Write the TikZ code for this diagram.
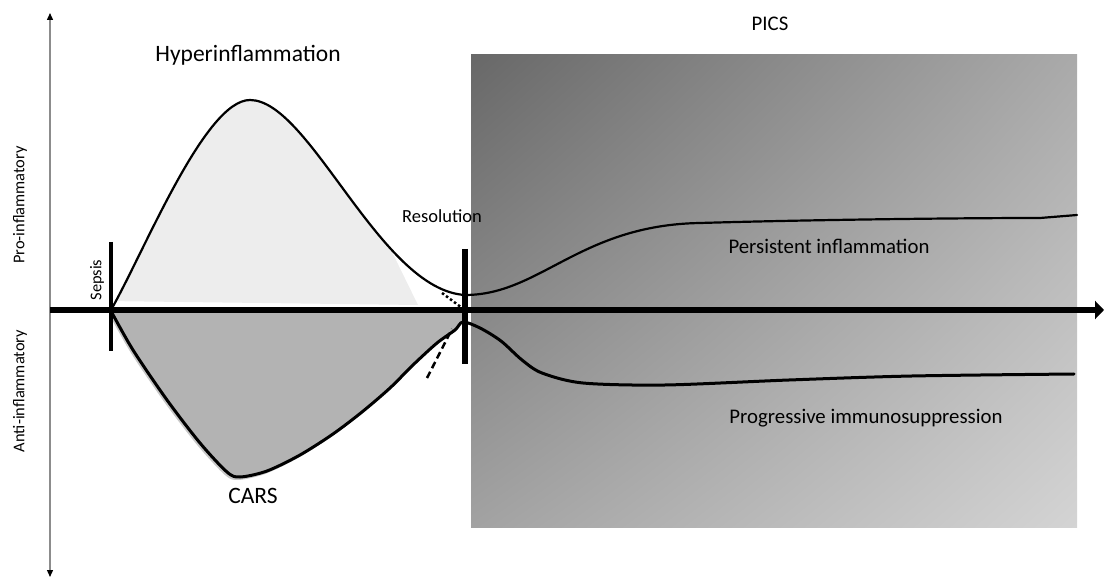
\documentclass[tikz,border=0pt]{standalone}
\usepackage{fontspec}
\setmainfont{Carlito}
\usetikzlibrary{arrows.meta,shadings}
\definecolor{hyperfill}{HTML}{EDEDED}
\definecolor{carsfill}{HTML}{B3B3B3}
\definecolor{carshalo}{HTML}{C8C8C8}
\definecolor{axisgray}{HTML}{8C8C8C}
\definecolor{picsUL}{HTML}{686868}
\definecolor{picsUR}{HTML}{AAAAAA}
\definecolor{picsLL}{HTML}{A2A2A2}
\definecolor{picsLR}{HTML}{D4D4D4}
\tikzset{
  lbl/.style={inner sep=0pt, text=black},
  bigtxt/.style={lbl, font=\fontsize{23.5}{28}\selectfont},
  midtxt/.style={lbl, font=\fontsize{20.8}{25}\selectfont},
  restxt/.style={lbl, font=\fontsize{18.5}{22}\selectfont},
  smalltxt/.style={lbl, font=\fontsize{16.4}{20}\selectfont},
  curveline/.style={line width=2.2pt, line cap=round},
  carsline/.style={line width=3pt, line cap=round},
}
\begin{document}
\begin{tikzpicture}[x=1pt,y=-1pt]
\useasboundingbox (0,0) rectangle (1104,577);

% PICS shaded box
\shade[upper left=picsUL, upper right=picsUR, lower left=picsLL, lower right=picsLR]
  (471,55) rectangle (1077,527);

% hyperinflammation fill
\begin{scope}
  \clip (105,301) -- (105,40) -- (288,40) -- (418,305) -- cycle;
  \fill[hyperfill] (111,310) .. controls (145,250) and (205,100) .. (250,100)
     .. controls (310,100) and (380,290) .. (465,295) -- (465,310) -- cycle;
\end{scope}

% CARS fill with halo
\fill[carshalo, shift={(-2,3)}] plot[smooth] coordinates {(111,311) (133,350) (167,400) (200,443) (227,472) (240,477) (267,471) (300,455) (333,434) (362,412) (390,388) (413,365) (437,343) (455,330) (463,321)} -- cycle;
\fill[carsfill] plot[smooth] coordinates {(111,311) (133,350) (167,400) (200,443) (227,472) (240,477) (267,471) (300,455) (333,434) (362,412) (390,388) (413,365) (437,343) (455,330) (463,321)} -- (463,313) -- cycle;

% upper curve
\draw[curveline] (111,310) .. controls (145,250) and (205,100) .. (250,100)
   .. controls (310,100) and (380,290) .. (465,295)
   .. controls (540,295) and (580,225) .. (700,223)
   .. controls (800,220) and (950,218) .. (1040,218) -- (1077,215);

% lower curve
\draw[carsline] plot[smooth] coordinates {(111,311) (133,350) (167,400) (200,443) (227,472) (240,477) (267,471) (300,455) (333,434) (362,412) (390,388) (413,365) (437,343) (455,330) (463,322) (480,328) (501,341) (522,360) (542,373) (583,383) (665,385) (789,380) (912,376) (1074,374)};

% dotted and dashed extrapolations
\coordinate (dotA) at (442,293);
\coordinate (dotB) at (462,308);
\draw[line width=2.5pt, dash pattern=on 2.5pt off 2.5pt] (dotA) -- (dotB);
\coordinate (dashA) at (427,378);
\coordinate (dashB) at (452,329);
\draw[line width=2.5pt, dash pattern=on 7pt off 4pt] (dashA) -- (dashB);

% axes
\coordinate (vTop) at (50,13);
\coordinate (vBot) at (50,577);
\draw[axisgray, line width=1.3pt, {Triangle[length=7pt,width=6pt,color=black]}-{Triangle[length=7pt,width=6pt,color=black]}] (vTop) -- (vBot);
\coordinate (hStart) at (50,310);
\coordinate (hEnd) at (1104,310);
\draw[line width=6.5pt, -{Triangle[length=9pt,width=18pt]}] (hStart) -- (hEnd);

% event bars
\coordinate (sepT) at (111,242);
\coordinate (sepB) at (111,351);
\draw[line width=3.3pt] (sepT) -- (sepB);
\coordinate (resT) at (465,249);
\coordinate (resB) at (465,364);
\draw[line width=6pt] (resT) -- (resB);

% labels
\node[bigtxt] (hyper) at (248,55) {Hyperinflammation};
\node[midtxt] (pics) at (770,24) {PICS};
\node[restxt] (res) at (442,216) {Resolution};
\node[smalltxt, rotate=90] (sepsis) at (97,280) {Sepsis};
\node[smalltxt, rotate=90] (pro) at (20,205) {Pro-inflammatory};
\node[smalltxt, rotate=90] (anti) at (20,391) {Anti-inflammatory};
\node[bigtxt] (cars) at (253,496) {CARS};
\node[midtxt] (persist) at (829,246) {Persistent inflammation};
\node[midtxt] (prog) at (866,418) {Progressive immunosuppression};
\end{tikzpicture}
\end{document}
